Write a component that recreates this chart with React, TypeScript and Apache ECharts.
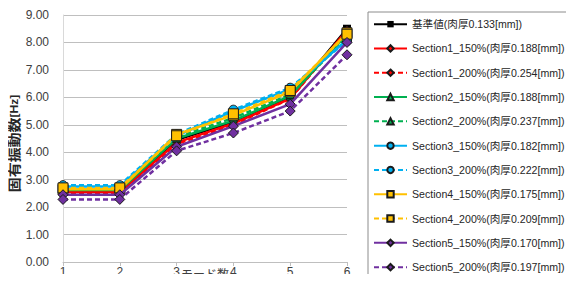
import React, { useEffect, useRef } from "react";
import * as echarts from "echarts";

const modes = [1, 2, 3, 4, 5, 6];
const seriesNames = [
  "基準値(肉厚0.133[mm])",
  "Section1_150%(肉厚0.188[mm])",
  "Section1_200%(肉厚0.254[mm])",
  "Section2_150%(肉厚0.188[mm])",
  "Section2_200%(肉厚0.237[mm])",
  "Section3_150%(肉厚0.182[mm])",
  "Section3_200%(肉厚0.222[mm])",
  "Section4_150%(肉厚0.175[mm])",
  "Section4_200%(肉厚0.209[mm])",
  "Section5_150%(肉厚0.170[mm])",
  "Section5_200%(肉厚0.197[mm])",
];
const base = [2.6, 2.6, 4.45, 5.1, 6.0, 8.5];
const s1_150 = [2.55, 2.55, 4.35, 5.05, 5.95, 8.45];
const s1_200 = [2.52, 2.52, 4.3, 5.0, 5.95, 8.4];
const s2_150 = [2.62, 2.62, 4.5, 5.15, 6.05, 8.3];
const s2_200 = [2.65, 2.65, 4.55, 5.25, 6.1, 8.2];
const s3_150 = [2.75, 2.75, 4.6, 5.5, 6.3, 8.1];
const s3_200 = [2.8, 2.8, 4.65, 5.55, 6.35, 8.05];
const s4_150 = [2.65, 2.65, 4.65, 5.35, 6.2, 8.35];
const s4_200 = [2.7, 2.7, 4.6, 5.4, 6.25, 8.3];
const s5_150 = [2.45, 2.45, 4.2, 4.95, 5.75, 8.0];
const s5_200 = [2.28, 2.28, 4.05, 4.7, 5.5, 7.55];
const yTicks = [0, 1, 2, 3, 4, 5, 6, 7, 8, 9];

const values = [base, s1_150, s1_200, s2_150, s2_200, s3_150, s3_200, s4_150, s4_200, s5_150, s5_200];
const colors = ["#000000", "#FF0000", "#FF0000", "#00B050", "#00B050", "#00B0F0", "#00B0F0", "#FFC000", "#FFC000", "#7030A0", "#7030A0"];
const symbols = ["rect", "diamond", "diamond", "triangle", "triangle", "circle", "circle", "rect", "rect", "diamond", "diamond"];
const dashed = [false, false, true, false, true, false, true, false, true, false, true];
const sizes = [8, 8, 8, 8, 8, 9, 9, 10, 10, 10, 10];

export default function App() {
  const ref = useRef<HTMLDivElement>(null);
  useEffect(() => {
    const chart = echarts.init(ref.current!, null, { renderer: "svg" });
    const font = "'Liberation Sans', 'Noto Sans CJK JP', sans-serif";
    chart.setOption({
      animation: false,
      textStyle: { fontFamily: font },
      grid: { left: 63, right: 227, top: 15, bottom: 20, outerBoundsMode: "none", containLabel: false },
      legend: {
        orient: "vertical",
        left: 368,
        top: 12,
        padding: [0, 10, 0, 5],
        itemWidth: 33,
        itemHeight: 8,
        itemGap: 0,
        borderColor: "#8c8c8c",
        borderWidth: 1,
        textStyle: { fontSize: 10.6, lineHeight: 24.3, color: "#262626", fontFamily: font },
        data: seriesNames,
      },
      xAxis: {
        type: "value",
        min: 1,
        max: 6,
        interval: 1,
        name: "モード数",
        nameLocation: "middle",
        nameGap: 7,
        nameMoveOverlap: false,
        nameTextStyle: { fontSize: 12, color: "#404040", verticalAlign: "top" },
        axisLine: { show: true, lineStyle: { color: "#bfbfbf", width: 1 } },
        axisTick: { show: true, length: 4, lineStyle: { color: "#bfbfbf" } },
        axisLabel: { fontSize: 12, color: "#404040", margin: 4 },
        splitLine: { show: false },
      },
      yAxis: {
        type: "value",
        min: 0,
        max: 9,
        interval: 1,
        axisLine: { show: true, lineStyle: { color: "#d9d9d9", width: 1 } },
        axisTick: { show: false },
        axisLabel: {
          fontSize: 12,
          color: "#404040",
          margin: 14,
          formatter: (v: number) => (yTicks.includes(v) ? v.toFixed(2) : ""),
        },
        splitLine: { lineStyle: { color: "#bfbfbf", width: 1 } },
      },
      graphic: [
        {
          type: "text",
          x: 14.5,
          y: 143.5,
          rotation: Math.PI / 2,
          scaleX: 1.15,
          style: {
            text: "{a|固有振動数}{b|[Hz]}",
            fontFamily: font,
            align: "center",
            verticalAlign: "middle",
            rich: {
              a: { fontSize: 13, fontWeight: "bold", fill: "#262626", fontFamily: font },
              b: { fontSize: 10.5, fontWeight: "bold", fill: "#262626", fontFamily: font },
            },
          },
        },
      ],
      series: seriesNames.map((name, i) => ({
        name,
        type: "line",
        data: modes.map((m, j) => [m, values[i][j]]),
        symbol: symbols[i],
        symbolSize: sizes[i],
        lineStyle: { color: colors[i], width: 2.5, type: dashed[i] ? [5, 3] : "solid" },
        itemStyle: { color: colors[i], borderColor: "#1a1a1a", borderWidth: i === 0 ? 0 : 1 },
        z: 2 + i,
      })),
    });
    return () => chart.dispose();
  }, []);
  return <div ref={ref} style={{ width: 574, height: 282, margin: -8 }} />;
}
